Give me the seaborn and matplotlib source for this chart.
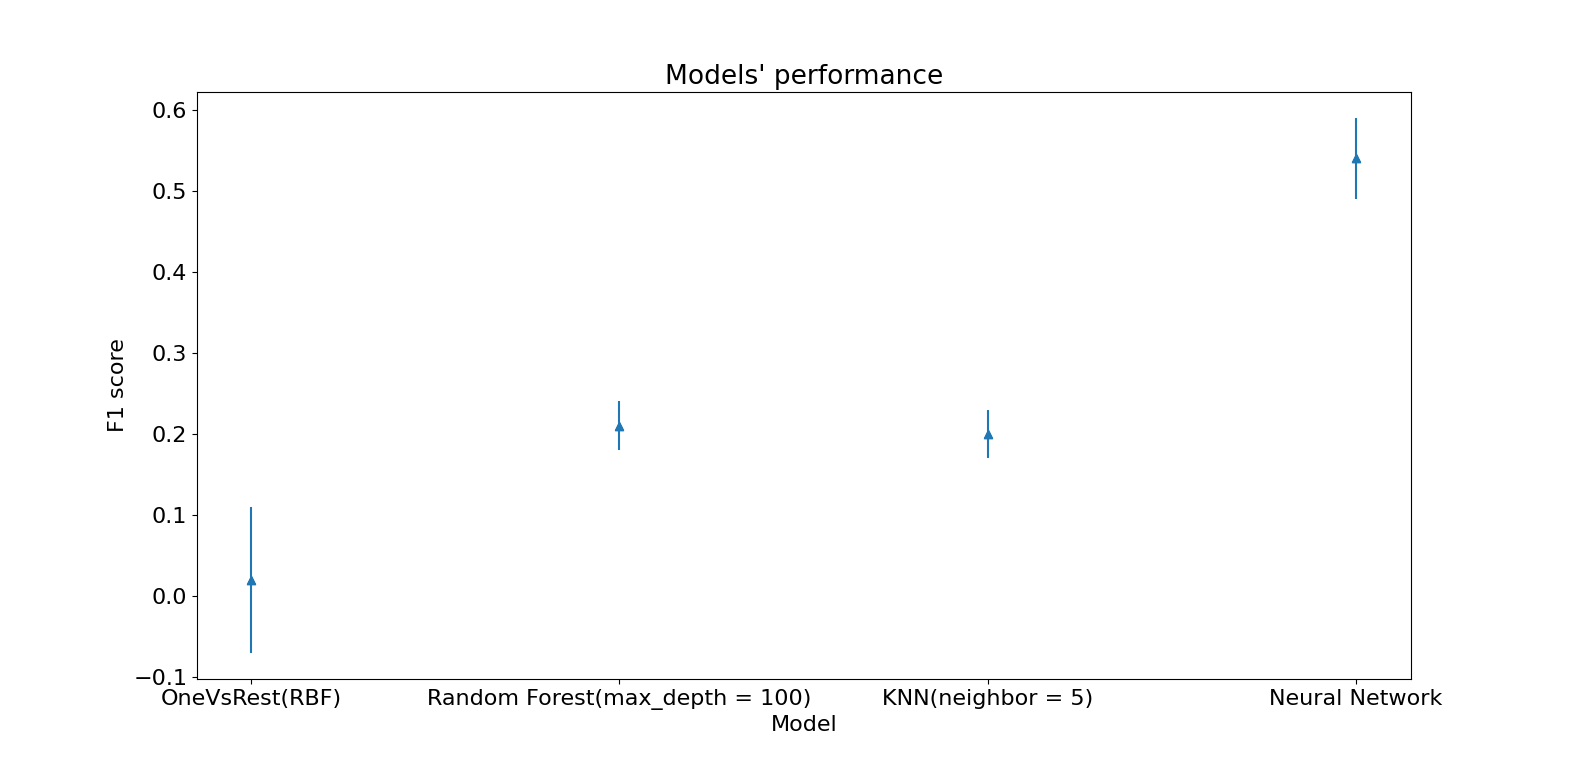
import matplotlib
matplotlib.use("Agg")
import matplotlib.pyplot as plt
import seaborn as sns
import pandas as pd

models = ["OneVsRest(RBF)", "Random Forest(max_depth = 100)", "KNN(neighbor = 5)", "Neural Network"]
f1_mean = [0.02, 0.21, 0.20, 0.54]
f1_err = [0.09, 0.03, 0.03, 0.05]

df = pd.DataFrame({"Model": models, "F1 score": f1_mean, "err": f1_err})

plt.rcParams["font.family"] = ["DejaVu Sans"]
plt.rcParams["font.size"] = 16

fig = plt.figure(figsize=(15.93, 7.75), dpi=100)
ax = fig.add_axes([0.1237, 0.1239, 0.762, 0.7574])
ax.errorbar(range(len(models)), df["F1 score"], yerr=df["err"], fmt="^", color="#1f77b4", markersize=6)
sns.scatterplot(data=df, x="Model", y="F1 score", marker="^", color="#1f77b4", s=40, edgecolor="#1f77b4", ax=ax)
ax.set_xticks(range(len(models)))
ax.set_xticklabels(models)
ax.set_title("Models' performance", fontsize=19)
ax.set_xlabel("Model")
ax.set_ylabel("F1 score")
ax.set_xlim(-0.147, 3.15)
ax.set_ylim(-0.1025, 0.622)
fig.savefig("out.png", dpi=100)
